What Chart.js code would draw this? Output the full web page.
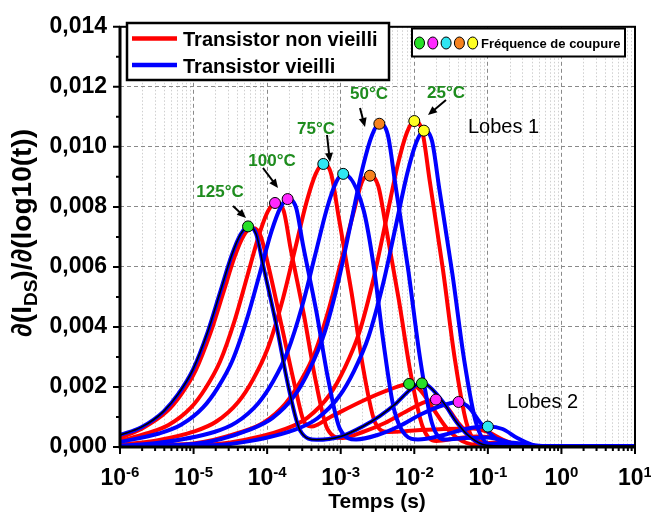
<!DOCTYPE html>
<html>
<head>
<meta charset="utf-8">
<script src="https://cdn.jsdelivr.net/npm/chart.js@4"></script>
<style>
  html, body { margin: 0; padding: 0; background: #fff; }
  #wrap { width: 651px; height: 515px; }
</style>
</head>
<body>
<div id="wrap"><canvas id="grafico"></canvas></div>
<script>
// temps (s) et dI/dlog(t)
const tR125 = [1e-6, 2.138e-6, 4.266e-6, 6.761e-6, 1.072e-5, 1.698e-5, 2.512e-5, 3.631e-5, 4.786e-5, 6.026e-5, 7.943e-5, 1.047e-4, 1.585e-4, 2.399e-4, 3.162e-4, 3.981e-4, 7.244e-4, 2.042e-3, 4.677e-3, 8.511e-3, 1.202e-2, 1.778e-2, 2.818e-2, 4.467e-2, 7.943e-2, 0.3162, 10];
const vR125 = [0.0003, 0.00066, 0.00117, 0.00175, 0.00256, 0.0038, 0.00511, 0.00635, 0.00704, 0.0073, 0.0071, 0.006, 0.004, 0.002, 0.00085, 0.00068, 0.0010, 0.00155, 0.00192, 0.0021, 0.0019, 0.0013, 0.0006, 0.0002, 0.00005, 0.00003, 0.00003];

const tB125 = [1e-6, 1.950e-6, 3.890e-6, 6.166e-6, 9.772e-6, 1.549e-5, 2.291e-5, 3.311e-5, 4.365e-5, 5.495e-5, 7.079e-5, 8.913e-5, 1.349e-4, 1.950e-4, 2.818e-4, 4.677e-4, 1e-3, 2.042e-3, 3.388e-3, 5.754e-3, 8.710e-3, 1.259e-2, 1.622e-2, 2.512e-2, 3.802e-2, 5.754e-2, 9.550e-2, 0.3162, 10];
const vB125 = [0.0004, 0.00066, 0.00118, 0.00176, 0.00257, 0.00382, 0.00515, 0.0064, 0.00709, 0.00735, 0.0071, 0.006, 0.004, 0.002, 0.00054, 0.00024, 0.00035, 0.0007, 0.00103, 0.00147, 0.0019, 0.00214, 0.002, 0.00147, 0.00081, 0.00033, 0.00006, 0.00003, 0.00003];

const tR100 = [1e-6, 2.291e-6, 4.571e-6, 9.120e-6, 1.445e-5, 2.291e-5, 3.631e-5, 5.370e-5, 7.762e-5, 1.023e-4, 1.288e-4, 1.660e-4, 2.089e-4, 3.162e-4, 4.571e-4, 6.607e-4, 1.047e-3, 1.995e-3, 3.981e-3, 7.943e-3, 1.413e-2, 1.972e-2, 2.818e-2, 3.981e-2, 6.310e-2, 0.1, 0.1995, 10];
const vR100 = [0.0002, 0.00045, 0.00073, 0.0013, 0.00195, 0.00285, 0.00423, 0.00569, 0.00707, 0.00785, 0.00813, 0.0079, 0.0066, 0.0044, 0.0022, 0.0006, 0.0003, 0.0005, 0.0008, 0.0012, 0.0015, 0.00158, 0.0013, 0.0008, 0.0003, 0.0001, 0.00003, 0.00003];

const tB100 = [1e-6, 3.388e-6, 6.761e-6, 1.349e-5, 2.138e-5, 3.388e-5, 5.370e-5, 7.943e-5, 1.148e-4, 1.514e-4, 1.905e-4, 2.455e-4, 3.090e-4, 4.677e-4, 6.761e-4, 9.772e-4, 1.622e-3, 3.162e-3, 6.310e-3, 1.259e-2, 2.512e-2, 3.981e-2, 5.623e-2, 7.943e-2, 0.1259, 0.1995, 0.3981, 10];
const vB100 = [0.00017, 0.00045, 0.00074, 0.00132, 0.00198, 0.00289, 0.0043, 0.00578, 0.00719, 0.00797, 0.00826, 0.008, 0.0067, 0.0045, 0.00225, 0.0006, 0.00025, 0.0004, 0.0007, 0.0011, 0.0014, 0.0015, 0.0013, 0.0008, 0.0003, 0.0001, 0.00003, 0.00003];

const tR75 = [1e-6, 3.162e-6, 1.023e-5, 2.042e-5, 4.074e-5, 6.457e-5, 1.023e-4, 1.622e-4, 2.399e-4, 3.467e-4, 4.571e-4, 5.754e-4, 7.413e-4, 9.333e-4, 1.413e-3, 2.042e-3, 2.951e-3, 4.467e-3, 1e-2, 2.512e-2, 6.310e-2, 0.1, 0.1585, 0.2512, 0.3981, 10];
const vR75 = [0.00008, 0.00022, 0.00052, 0.00085, 0.00151, 0.00226, 0.0033, 0.0049, 0.0066, 0.0082, 0.0091, 0.00943, 0.0091, 0.0077, 0.0051, 0.00256, 0.0008, 0.0005, 0.00055, 0.0006, 0.00062, 0.0005, 0.00025, 0.00008, 0.00003, 0.00003];

const tB75 = [1e-6, 3.162e-6, 1.905e-5, 3.802e-5, 7.586e-5, 1.202e-4, 1.905e-4, 3.020e-4, 4.467e-4, 6.457e-4, 8.511e-4, 1.072e-3, 2.042e-3, 2.818e-3, 3.802e-3, 5.248e-3, 7.586e-3, 1.122e-2, 2.512e-2, 5.012e-2, 0.1, 0.1585, 0.2512, 0.3981, 0.631, 10];
const vB75 = [0.00005, 0.00013, 0.0005, 0.00082, 0.00146, 0.00218, 0.00319, 0.00473, 0.00637, 0.00792, 0.00878, 0.0091, 0.0079, 0.006, 0.0035, 0.0013, 0.0004, 0.00025, 0.0004, 0.0006, 0.00068, 0.0006, 0.0003, 0.00008, 0.00003, 0.00003];

const tR50 = [1e-6, 1e-5, 4.467e-5, 8.913e-5, 1.778e-4, 2.818e-4, 4.467e-4, 7.079e-4, 1.047e-3, 1.514e-3, 1.995e-3, 2.512e-3, 3.236e-3, 4.074e-3, 6.166e-3, 8.913e-3, 1.288e-2, 1.995e-2, 3.981e-2, 7.079e-2, 0.1259, 0.1995, 0.3162, 10];
const vR50 = [0.00004, 0.00012, 0.0005, 0.00081, 0.00145, 0.00217, 0.00316, 0.0047, 0.00633, 0.00786, 0.0089, 0.00904, 0.0087, 0.0074, 0.0049, 0.00246, 0.0007, 0.0002, 0.0003, 0.00035, 0.0003, 0.00012, 0.00003, 0.00003];

const tB50 = [1e-6, 1e-5, 5.957e-5, 1.189e-4, 2.371e-4, 3.758e-4, 5.957e-4, 9.441e-4, 1.396e-3, 2.018e-3, 2.661e-3, 3.350e-3, 4.365e-3, 5.495e-3, 8.318e-3, 1.202e-2, 1.738e-2, 2.630e-2, 5.012e-2, 0.1, 0.1585, 0.2512, 0.3981, 10];
const vB50 = [0.00003, 0.0001, 0.00059, 0.00097, 0.00172, 0.00258, 0.00377, 0.0056, 0.00754, 0.00937, 0.01039, 0.01077, 0.0104, 0.00879, 0.00586, 0.00293, 0.0008, 0.00025, 0.0003, 0.00032, 0.00022, 0.00008, 0.00002, 0.00002];

const tR25 = [1e-6, 1e-5, 3.162e-5, 1.778e-4, 3.548e-4, 7.079e-4, 1.122e-3, 1.778e-3, 2.818e-3, 4.169e-3, 6.026e-3, 7.943e-3, 1e-2, 1.288e-2, 1.622e-2, 2.455e-2, 3.548e-2, 5.129e-2, 7.943e-2, 0.1259, 0.1995, 0.3162, 0.5012, 10];
const vR25 = [0.00002, 0.00006, 0.00015, 0.0006, 0.00098, 0.00174, 0.00261, 0.0038, 0.00565, 0.0076, 0.00945, 0.01048, 0.01086, 0.0105, 0.00886, 0.0059, 0.00295, 0.0008, 0.0001, 0.00015, 0.00013, 0.00005, 0.00002, 0.00002];

const tB25 = [1e-6, 1e-5, 3.162e-5, 2.399e-4, 4.786e-4, 9.550e-4, 1.514e-3, 2.399e-3, 3.802e-3, 5.623e-3, 8.128e-3, 1.072e-2, 1.349e-2, 1.738e-2, 2.188e-2, 3.311e-2, 4.786e-2, 6.918e-2, 0.1072, 0.1778, 0.2818, 0.4467, 0.7943, 10];
const vB25 = [0.00001, 0.00004, 0.0001, 0.00058, 0.00095, 0.00169, 0.00253, 0.00369, 0.00548, 0.00738, 0.00917, 0.01017, 0.01054, 0.0102, 0.0086, 0.00573, 0.00287, 0.0008, 0.0001, 0.00015, 0.00012, 0.00004, 0.00002, 0.00002];

// fréquences de coupure (marqueurs)
const markT = [5.5e-5, 1.28e-4, 1.9e-4, 5.8e-4, 1.08e-3, 2.5e-3, 3.35e-3, 1.0e-2, 1.35e-2, 8.5e-3, 1.27e-2, 1.97e-2, 4.0e-2, 0.1];
const markV = [0.00735, 0.00813, 0.00826, 0.00943, 0.0091, 0.00904, 0.01077, 0.01086, 0.01054, 0.0021, 0.00212, 0.00158, 0.0015, 0.00068];
const markTemp = [125, 100, 100, 75, 75, 50, 50, 25, 25, 125, 125, 100, 100, 75];

const yTicks = [0, 0.002, 0.004, 0.006, 0.008, 0.010, 0.012, 0.014];
const xDecades = [-6, -5, -4, -3, -2, -1, 0, 1];

const tempColor = { 125: '#27e027', 100: '#ff28ff', 75: '#2ee6f2', 50: '#f5821f', 25: '#ffff22' };
const ROUGE = '#ff0000';
const BLEU = '#0000ff';
const FONT = '"Liberation Sans", Arial, sans-serif';

const pts = (ts, vs) => ts.map((t, i) => ({ x: t, y: vs[i] }));

function courbe(ts, vs, couleur, ordre, larg) {
  return {
    data: pts(ts, vs),
    borderColor: couleur,
    borderWidth: larg || 4,
    pointRadius: 0,
    fill: false,
    cubicInterpolationMode: 'monotone',
    order: ordre
  };
}

const isDecade = v => Math.abs(Math.log10(v) - Math.round(Math.log10(v))) < 1e-6;

const decor = {
  id: 'decor',
  afterDatasetsDraw(chart) {
    const { ctx, chartArea: a, scales: { x, y } } = chart;
    ctx.save();

    // cadre
    ctx.strokeStyle = '#000';
    ctx.lineWidth = 2;
    ctx.strokeRect(a.left, a.top, a.right - a.left, a.bottom - a.top);
    ctx.lineWidth = 3;
    ctx.beginPath();
    ctx.moveTo(a.left, a.top);
    ctx.lineTo(a.left, a.bottom);
    ctx.lineTo(a.right, a.bottom);
    ctx.stroke();

    // graduations
    ctx.lineWidth = 2;
    ctx.beginPath();
    for (let e = -6; e <= 1; e++) {
      for (let k = 1; k <= 9; k++) {
        const v = k * Math.pow(10, e);
        if (v > 10.0001) break;
        const px = x.getPixelForValue(v);
        ctx.moveTo(px, a.bottom);
        ctx.lineTo(px, a.bottom + (k === 1 ? 7 : 4));
      }
    }
    for (let v = 0; v <= 0.0140001; v += 0.001) {
      const py = y.getPixelForValue(v);
      const major = Math.round(v * 1000) % 2 === 0;
      ctx.moveTo(a.left, py);
      ctx.lineTo(a.left - (major ? 7 : 4), py);
    }
    ctx.stroke();

    // etiquettes de l'axe x : 10^n
    ctx.fillStyle = '#000';
    ctx.textBaseline = 'alphabetic';
    xDecades.forEach(e => {
      const px = x.getPixelForValue(Math.pow(10, e));
      ctx.font = 'bold 23px ' + FONT;
      const wb = ctx.measureText('10').width;
      ctx.font = 'bold 15px ' + FONT;
      const exp = String(e);
      const we = ctx.measureText(exp).width;
      const x0 = px - (wb + we) / 2;
      ctx.font = 'bold 23px ' + FONT;
      ctx.textAlign = 'left';
      ctx.fillText('10', x0, 485);
      ctx.font = 'bold 15px ' + FONT;
      ctx.fillText(exp, x0 + wb, 477);
    });

    // titre axe x
    ctx.font = 'bold 21px ' + FONT;
    ctx.textAlign = 'center';
    ctx.fillText('Temps (s)', 377, 508);

    // titre axe y
    ctx.save();
    ctx.translate(31, 233);
    ctx.rotate(-Math.PI / 2);
    const parts = [
      { s: '\u2202(I', f: 'bold 28px ', dy: 0 },
      { s: 'DS', f: 'bold 19px ', dy: 6 },
      { s: ')/\u2202(log10(t))', f: 'bold 28px ', dy: 0 }
    ];
    let tot = 0;
    parts.forEach(p => { ctx.font = p.f + FONT; p.w = ctx.measureText(p.s).width; tot += p.w; });
    let cx = -tot / 2;
    ctx.textAlign = 'left';
    parts.forEach(p => { ctx.font = p.f + FONT; ctx.fillText(p.s, cx, p.dy); cx += p.w; });
    ctx.restore();

    // legende 1
    ctx.fillStyle = '#fff';
    ctx.fillRect(127, 23, 262, 57);
    ctx.strokeStyle = '#000';
    ctx.lineWidth = 2.5;
    ctx.strokeRect(127, 23, 262, 57);
    ctx.lineWidth = 4.5;
    ctx.strokeStyle = ROUGE;
    ctx.beginPath(); ctx.moveTo(132, 38.5); ctx.lineTo(177, 38.5); ctx.stroke();
    ctx.strokeStyle = BLEU;
    ctx.beginPath(); ctx.moveTo(132, 65); ctx.lineTo(177, 65); ctx.stroke();
    ctx.fillStyle = '#000';
    ctx.font = 'bold 20px ' + FONT;
    ctx.textAlign = 'left';
    ctx.fillText('Transistor non vieilli', 183, 46);
    ctx.fillText('Transistor vieilli', 183, 73);

    // legende 2
    ctx.fillStyle = '#fff';
    ctx.fillRect(412, 28.5, 213, 28);
    ctx.strokeStyle = '#000';
    ctx.lineWidth = 2;
    ctx.strokeRect(412, 28.5, 213, 28);
    [125, 100, 75, 50, 25].forEach((tp, i) => {
      ctx.beginPath();
      ctx.ellipse(419.5 + i * 13.3, 43, 5, 6, 0, 0, Math.PI * 2);
      ctx.fillStyle = tempColor[tp];
      ctx.fill();
      ctx.lineWidth = 1;
      ctx.strokeStyle = '#000';
      ctx.stroke();
    });
    ctx.fillStyle = '#000';
    ctx.font = 'bold 13px ' + FONT;
    ctx.fillText('Fr\u00e9quence de coupure', 481, 48);

    // etiquettes des temperatures
    ctx.fillStyle = '#1e8c1e';
    ctx.font = 'bold 17px ' + FONT;
    ctx.textAlign = 'center';
    ctx.fillText('125\u00b0C', 220, 197);
    ctx.fillText('100\u00b0C', 272, 166);
    ctx.fillText('75\u00b0C', 316, 134);
    ctx.fillText('50\u00b0C', 369, 99);
    ctx.fillText('25\u00b0C', 446, 98);

    // fleches
    const fleche = (x1, y1, x2, y2) => {
      const ang = Math.atan2(y2 - y1, x2 - x1);
      ctx.strokeStyle = '#000';
      ctx.fillStyle = '#000';
      ctx.lineWidth = 2;
      ctx.beginPath();
      ctx.moveTo(x1, y1);
      ctx.lineTo(x2 - 6 * Math.cos(ang), y2 - 6 * Math.sin(ang));
      ctx.stroke();
      ctx.beginPath();
      ctx.moveTo(x2, y2);
      ctx.lineTo(x2 - 9 * Math.cos(ang) + 4 * Math.sin(ang), y2 - 9 * Math.sin(ang) - 4 * Math.cos(ang));
      ctx.lineTo(x2 - 9 * Math.cos(ang) - 4 * Math.sin(ang), y2 - 9 * Math.sin(ang) + 4 * Math.cos(ang));
      ctx.closePath();
      ctx.fill();
    };
    fleche(233, 206, 246, 218);
    fleche(263, 168, 278, 188);
    fleche(327, 135, 330, 162);
    fleche(360, 108, 365, 127);
    fleche(446, 100, 428, 115);

    // lobes
    ctx.fillStyle = '#000';
    ctx.font = '20px ' + FONT;
    ctx.textAlign = 'left';
    ctx.fillText('Lobes 1', 468, 133);
    ctx.fillText('Lobes 2', 507, 408);

    ctx.restore();
  }
};

new Chart(document.getElementById('grafico'), {
  type: 'line',
  data: {
    datasets: [
      {
        data: pts(markT, markV),
        showLine: false,
        pointRadius: 5.5,
        pointHoverRadius: 5.5,
        pointBackgroundColor: markTemp.map(tp => tempColor[tp]),
        pointBorderColor: '#000',
        pointBorderWidth: 1,
        order: 0
      },
      courbe(tB125, vB125, '#000', 1, 1.5),
      courbe(tB125, vB125, BLEU, 2),
      courbe(tB100, vB100, BLEU, 2),
      courbe(tB75, vB75, BLEU, 2),
      courbe(tB50, vB50, BLEU, 2),
      courbe(tB25, vB25, BLEU, 2),
      courbe(tR125, vR125, ROUGE, 3),
      courbe(tR100, vR100, ROUGE, 3),
      courbe(tR75, vR75, ROUGE, 3),
      courbe(tR50, vR50, ROUGE, 3),
      courbe(tR25, vR25, ROUGE, 3)
    ]
  },
  options: {
    responsive: true,
    maintainAspectRatio: false,
    animation: false,
    devicePixelRatio: 1,
    layout: { padding: { top: 17, right: 16, left: 0, bottom: 0 } },
    scales: {
      x: {
        type: 'logarithmic',
        min: 1e-6,
        max: 10,
        afterBuildTicks: s => {
          const tk = [];
          xDecades.forEach(e => {
            for (let k = 1; k <= 9; k++) {
              const v = k * Math.pow(10, e);
              if (v <= 10.0001) tk.push({ value: v });
            }
          });
          s.ticks = tk;
        },
        afterFit: s => { s.height = 68; },
        ticks: { display: false },
        grid: {
          drawTicks: false,
          lineWidth: 1,
          color: c => (c.tick && isDecade(c.tick.value)) ? '#8a8a8a' : '#cfcfcf'
        },
        border: {
          display: false,
          dash: c => (c.tick && isDecade(c.tick.value)) ? [4, 3] : [1.5, 2]
        }
      },
      y: {
        min: 0,
        max: 0.014,
        afterBuildTicks: s => { s.ticks = yTicks.map(v => ({ value: v })); },
        afterFit: s => { s.width = 120; },
        ticks: {
          padding: 13,
          color: '#000',
          font: { family: FONT, size: 23, weight: 'bold' },
          callback: v => v.toFixed(3).replace('.', ',')
        },
        grid: { drawTicks: false, color: '#8a8a8a', lineWidth: 1 },
        border: { display: false, dash: [4, 3] }
      }
    },
    plugins: {
      legend: { display: false },
      tooltip: { enabled: false }
    }
  },
  plugins: [decor]
});
</script>
</body>
</html>
